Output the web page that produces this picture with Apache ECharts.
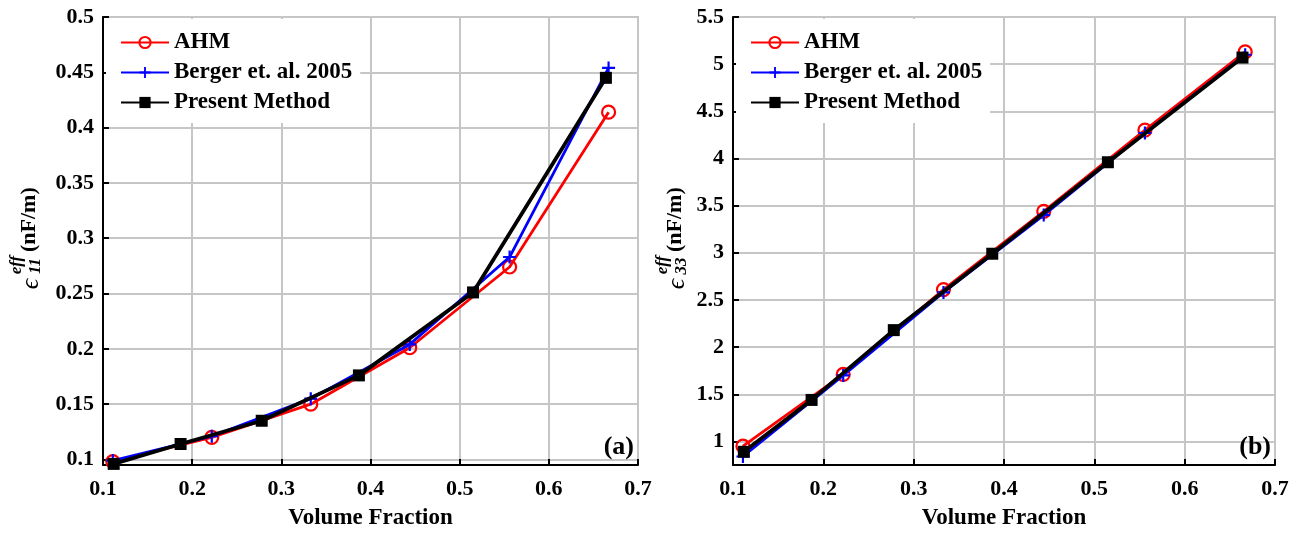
<!DOCTYPE html>
<html><head><meta charset="utf-8">
<script src="https://cdn.jsdelivr.net/npm/echarts@6/dist/echarts.min.js"></script>
<style>html,body{margin:0;padding:0;background:#fff}#c{width:1305px;height:536px}</style>
</head><body><div id="c"></div>
<script>
// ---- data ----
const seriesNames = ['AHM', 'Berger et. al. 2005', 'Present Method'];
const ahmX = [0.111, 0.222, 0.333, 0.444, 0.556, 0.667];
const bergerX = [0.111, 0.222, 0.333, 0.444, 0.556, 0.667];
const presentX = [0.112, 0.187, 0.278, 0.387, 0.515, 0.664];
// panel (a): eps_11
const ahmA = [0.098, 0.120, 0.150, 0.201, 0.274, 0.414];
const bergerA = [0.099, 0.121, 0.155, 0.204, 0.283, 0.454];
const presentA = [0.096, 0.114, 0.135, 0.176, 0.251, 0.445];
// panel (b): eps_33
const ahmB = [0.95, 1.71, 2.61, 3.44, 4.30, 5.13];
const bergerB = [0.84, 1.70, 2.58, 3.40, 4.27, 5.10];
const presentB = [0.89, 1.44, 2.18, 2.99, 3.96, 5.07];
const panelLabels = ['(a)', '(b)'];
const xTitle = 'Volume Fraction';
const yUnit = '(nF/m)';
const ySubs = ['11', '33'];

const FONT = '"Liberation Serif", "Times New Roman", serif';
const pair = (xs, ys) => xs.map((x, i) => [x, ys[i]]);
const PLUS = 'path://M5,0H7V5H12V7H7V12H5V7H0V5H5Z';

function makeSeries(gi, a, b, p) {
  return [
    { name: seriesNames[0], type: 'line', xAxisIndex: gi, yAxisIndex: gi, data: pair(ahmX, a),
      symbol: 'circle', symbolSize: 13, color: '#ff0000',
      itemStyle: { color: 'rgba(0,0,0,0)', borderColor: '#ff0000', borderWidth: 2.2 },
      lineStyle: { color: '#ff0000', width: 2.8 }, z: 3 },
    { name: seriesNames[1], type: 'line', xAxisIndex: gi, yAxisIndex: gi, data: pair(bergerX, b),
      symbol: PLUS, symbolSize: 13, color: '#0000ff',
      itemStyle: { color: '#0000ff' }, lineStyle: { color: '#0000ff', width: 2.8 }, z: 4 },
    { name: seriesNames[2], type: 'line', xAxisIndex: gi, yAxisIndex: gi, data: pair(presentX, p),
      symbol: 'rect', symbolSize: 12, color: '#000000',
      itemStyle: { color: '#000000' }, lineStyle: { color: '#000000', width: 3.8 }, z: 5 }
  ];
}

const axisCommon = {
  type: 'value',
  axisLine: { show: true, onZero: false, lineStyle: { color: '#000', width: 2 } },
  axisTick: { show: true, inside: true, length: 6, lineStyle: { color: '#000', width: 2 } },
  splitLine: { show: true, lineStyle: { color: '#c6c6c6', width: 2 } },
  axisLabel: { color: '#000', fontFamily: FONT, fontWeight: 'bold', fontSize: 22 }
};
function xAxis(gi) {
  return Object.assign({}, axisCommon, {
    gridIndex: gi, min: 0.1, max: 0.7, interval: 0.1,
    axisLabel: Object.assign({}, axisCommon.axisLabel, { margin: 13 }),
    name: xTitle, nameLocation: 'middle', nameGap: 42,
    nameTextStyle: { color: '#000', fontFamily: FONT, fontWeight: 'bold', fontSize: 23 }
  });
}
function yAxis(gi, min, max, step) {
  return Object.assign({}, axisCommon, {
    gridIndex: gi, min: min, max: max, minInterval: step, maxInterval: step, splitNumber: 9,
    axisLabel: Object.assign({}, axisCommon.axisLabel, { margin: 9, showMinLabel: false })
  });
}
function legend(left) {
  return {
    left: left, top: 19, orient: 'vertical', data: seriesNames,
    itemWidth: 48, itemHeight: 14, itemGap: 7,
    padding: [12, 8, 9, 14], backgroundColor: '#fff',
    textStyle: { color: '#000', fontFamily: FONT, fontWeight: 'bold', fontSize: 23, lineHeight: 23 },
    selectedMode: false
  };
}
function yTitle(X, Y, sub) {
  return {
    type: 'group', x: X, y: Y, rotation: Math.PI / 2, silent: true, z: 100,
    children: [
      { type: 'text', x: 0, y: 2, z: 100, style: { text: '\u03F5', font: 'italic 26px ' + FONT, fill: '#000', align: 'center', verticalAlign: 'middle' } },
      { type: 'text', x: 19, y: -12, z: 100, style: { text: 'eff', font: 'italic bold 17px ' + FONT, fill: '#000', align: 'center', verticalAlign: 'middle' } },
      { type: 'text', x: 18, y: 7, z: 100, style: { text: sub, font: 'italic bold 17px ' + FONT, fill: '#000', align: 'center', verticalAlign: 'middle' } },
      { type: 'text', x: 32, y: 0, z: 100, style: { text: yUnit, font: 'bold 22px ' + FONT, fill: '#000', align: 'left', verticalAlign: 'middle' } }
    ]
  };
}

const chart = echarts.init(document.getElementById('c'), null, { renderer: 'canvas' });
chart.setOption({
  animation: false,
  backgroundColor: '#fff',
  grid: [
    { left: 103, top: 17, width: 535, height: 448, show: true, borderColor: '#bdbdbd', borderWidth: 2, backgroundColor: 'transparent' },
    { left: 733, top: 17, width: 542, height: 448, show: true, borderColor: '#bdbdbd', borderWidth: 2, backgroundColor: 'transparent' }
  ],
  xAxis: [xAxis(0), xAxis(1)],
  yAxis: [yAxis(0, 0.095, 0.5, 0.05), yAxis(1, 0.75, 5.5, 0.5)],
  legend: [legend(106), legend(736)],
  series: makeSeries(0, ahmA, bergerA, presentA).concat(makeSeries(1, ahmB, bergerB, presentB)),
  graphic: [
    yTitle(29, 284, ySubs[0]),
    yTitle(675, 284, ySubs[1]),
    { type: 'text', x: 634, y: 447, z: 100, silent: true, style: { text: panelLabels[0], font: 'bold 26px ' + FONT, fill: '#000', align: 'right', verticalAlign: 'middle' } },
    { type: 'text', x: 1271, y: 447, z: 100, silent: true, style: { text: panelLabels[1], font: 'bold 26px ' + FONT, fill: '#000', align: 'right', verticalAlign: 'middle' } }
  ]
});
</script>
</body></html>
